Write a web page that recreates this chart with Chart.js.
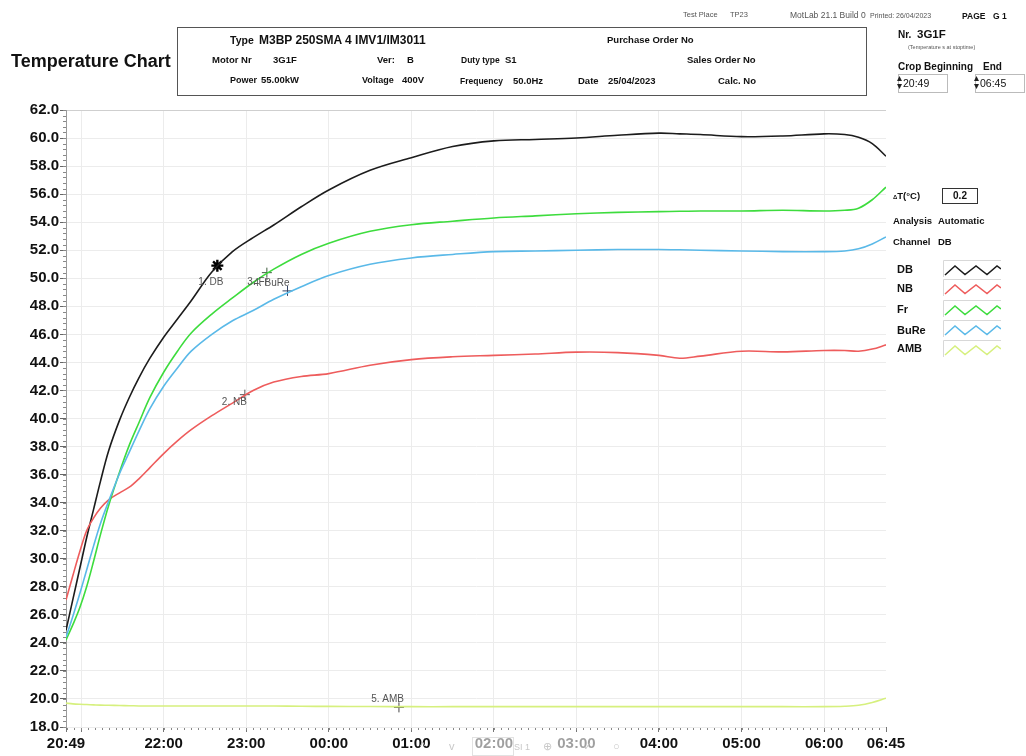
<!DOCTYPE html>
<html>
<head>
<meta charset="utf-8">
<script src="https://cdn.jsdelivr.net/npm/chart.js@4.4.1/dist/chart.umd.min.js"></script>
<style>
body { margin:0; width:1026px; height:756px; overflow:hidden; background:#fff; position:relative;
  font-family:"Liberation Sans", Arial, sans-serif; color:#111; }
#chart { position:absolute; left:0; top:0; }
.t { position:absolute; white-space:nowrap; line-height:1; transform:translateY(-50%); }
.b { font-weight:bold; }
.small { font-size:7.5px; color:#555; }
.hd { font-size:9.5px; }
#box { position:absolute; left:177px; top:27px; width:688px; height:67px; border:1.5px solid #555; }
.inp { position:absolute; top:74px; height:17px; border:1px solid #bbb; background:#fff; }
.sw { position:absolute; left:943px; width:58px; height:18px; }
#tools { position:absolute; left:434px; top:735px; width:206px; height:21px; background:rgba(255,255,255,0.6); }
.ic { position:absolute; color:#c8c8c8; font-size:11px; line-height:1; top:6px; }
</style>
</head>
<body>
<canvas id="chart" width="1026" height="756"></canvas>

<div class="t b" style="left:11px;top:61px;font-size:18px">Temperature Chart</div>

<div id="box"></div>
<div class="t b" style="left:230px;top:40px;font-size:10.5px">Type</div>
<div class="t b" style="left:259px;top:40px;font-size:12px">M3BP 250SMA 4 IMV1/IM3011</div>
<div class="t b hd" style="left:607px;top:40px">Purchase Order No</div>
<div class="t b hd" style="left:212px;top:59.5px">Motor Nr</div>
<div class="t b hd" style="left:273px;top:59.5px">3G1F</div>
<div class="t b hd" style="left:377px;top:59.5px">Ver:</div>
<div class="t b hd" style="left:407px;top:59.5px">B</div>
<div class="t b" style="left:461px;top:60px;font-size:8.5px">Duty type</div>
<div class="t b hd" style="left:505px;top:60px">S1</div>
<div class="t b hd" style="left:687px;top:59.5px">Sales Order No</div>
<div class="t b" style="left:230px;top:79.5px;font-size:9px">Power</div>
<div class="t b hd" style="left:261px;top:79.5px">55.00kW</div>
<div class="t b" style="left:362px;top:79.5px;font-size:9px">Voltage</div>
<div class="t b hd" style="left:402px;top:79.5px">400V</div>
<div class="t b" style="left:460px;top:80.5px;font-size:8.5px">Frequency</div>
<div class="t b hd" style="left:513px;top:80.5px">50.0Hz</div>
<div class="t b hd" style="left:578px;top:80.5px">Date</div>
<div class="t b hd" style="left:608px;top:80.5px">25/04/2023</div>
<div class="t b hd" style="left:718px;top:80.5px">Calc. No</div>

<div class="t small" style="left:683px;top:15px">Test Place</div>
<div class="t small" style="left:730px;top:15px">TP23</div>
<div class="t small" style="left:790px;top:15px;font-size:8.5px">MotLab 21.1 Build 0</div>
<div class="t small" style="left:870px;top:15px;font-size:7px">Printed: 26/04/2023</div>
<div class="t b" style="left:962px;top:16px;font-size:8.5px">PAGE</div>
<div class="t b" style="left:993px;top:16px;font-size:8.5px">G 1</div>

<div class="t b" style="left:898px;top:35px;font-size:10px">Nr.</div>
<div class="t b" style="left:917px;top:35px;font-size:11.5px">3G1F</div>
<div class="t" style="left:908px;top:48px;font-size:5.5px;color:#555">(Temperature s at stoptime)</div>
<div class="t b" style="left:898px;top:67px;font-size:10px">Crop Beginning</div>
<div class="t b" style="left:983px;top:67px;font-size:10px">End</div>
<div class="inp" style="left:898px;width:48px"></div>
<div class="inp" style="left:975px;width:48px"></div>
<svg style="position:absolute;left:896px;top:75px" width="7" height="16"><path d="M1 6 L3.5 1 L6 6 Z M1 9 L3.5 14 L6 9 Z" fill="#222"/></svg>
<svg style="position:absolute;left:973px;top:75px" width="7" height="16"><path d="M1 6 L3.5 1 L6 6 Z M1 9 L3.5 14 L6 9 Z" fill="#222"/></svg>
<div class="t" style="left:903px;top:83px;font-size:10.5px">20:49</div>
<div class="t" style="left:980px;top:83px;font-size:10.5px">06:45</div>

<div class="t b" style="left:893px;top:196px;font-size:9.5px"><span style="font-size:6px">&#916;</span>T(&#176;C)</div>
<div style="position:absolute;left:942px;top:188px;width:34px;height:14px;border:1px solid #333;font:bold 10px 'Liberation Sans',Arial,sans-serif;text-align:center;line-height:14px">0.2</div>
<div class="t b" style="left:893px;top:221px;font-size:9.5px">Analysis</div>
<div class="t b" style="left:938px;top:221px;font-size:9.5px">Automatic</div>
<div class="t b" style="left:893px;top:242px;font-size:9.5px">Channel</div>
<div class="t b" style="left:938px;top:242px;font-size:9.5px">DB</div>

<div class="t b" style="left:897px;top:269px;font-size:11px">DB</div>
<div class="t b" style="left:897px;top:288px;font-size:11px">NB</div>
<div class="t b" style="left:897px;top:309px;font-size:11px">Fr</div>
<div class="t b" style="left:897px;top:330px;font-size:11px">BuRe</div>
<div class="t b" style="left:897px;top:348px;font-size:11px">AMB</div>
<div id="swatches"></div>

<div id="tools">
  <span class="ic" style="left:-14px">^</span>
  <span class="ic" style="left:15px">v</span>
  <span style="position:absolute;left:38px;top:2px;width:40px;height:17px;border:1px solid #e2e2e2"></span>
  <span class="ic" style="left:80px;font-size:9px;top:8px">SI 1</span>
  <span class="ic" style="left:109px">&#8853;</span>
  <span class="ic" style="left:149px">&#10003;</span>
  <span class="ic" style="left:179px">&#9675;</span>
</div>

<script>
// sample times (clock) and readings in degrees C
const times = ['20:49','20:54','20:59','21:04','21:09','21:14','21:20','21:28','21:35','21:42','21:50',
  '22:00','22:10','22:20','22:35','22:50','23:05','23:20','23:40','00:00','00:30','01:00','01:30',
  '02:00','02:30','03:00','03:30','04:00','04:15','04:30','05:00','05:30','06:00','06:15','06:25','06:35','06:45']
const dbTemp = [24.9, 27.1, 29.3, 31.5, 33.5, 35.5, 37.7, 39.9, 41.5, 42.9, 44.3,
  45.8, 47.1, 48.4, 50.45, 51.9, 52.9, 53.8, 55.1, 56.3, 57.7, 58.6, 59.4,
  59.8, 59.9, 60.0, 60.2, 60.35, 60.3, 60.25, 60.1, 60.15, 60.3, 60.25, 60.05, 59.6, 58.7]
const nbTemp = [27.05, 28.8, 30.5, 32.0, 32.9, 33.6, 34.2, 34.7, 35.1, 35.7, 36.5,
  37.5, 38.4, 39.2, 40.2, 41.1, 42.0, 42.6, 43.0, 43.2, 43.8, 44.2, 44.4,
  44.5, 44.6, 44.73, 44.7, 44.5, 44.3, 44.45, 44.8, 44.75, 44.85, 44.85, 44.8, 44.95, 45.25]
const frTemp = [24.2, 25.3, 26.5, 28.0, 29.8, 31.7, 33.8, 36.2, 38.1, 39.7, 41.5,
  43.3, 44.8, 46.1, 47.45, 48.6, 49.7, 50.65, 51.7, 52.5, 53.35, 53.82, 54.07,
  54.3, 54.45, 54.6, 54.7, 54.75, 54.78, 54.8, 54.8, 54.85, 54.8, 54.85, 55.0, 55.6, 56.5]
const bureTemp = [24.4, 25.9, 27.5, 29.2, 30.9, 32.5, 34.1, 36.1, 37.6, 39.1, 40.7,
  42.3, 43.6, 44.8, 46.0, 46.97, 47.7, 48.5, 49.4, 50.2, 51.0, 51.45, 51.7,
  51.9, 51.95, 52.0, 52.05, 52.05, 52.03, 52.0, 51.95, 51.9, 51.9, 51.95, 52.1, 52.45, 52.95]
const ambTemp = [19.7, 19.65, 19.62, 19.6, 19.58, 19.56, 19.55, 19.53, 19.52, 19.5, 19.5,
  19.5, 19.5, 19.5, 19.5, 19.5, 19.5, 19.5, 19.48, 19.47, 19.46, 19.45, 19.45,
  19.45, 19.45, 19.45, 19.45, 19.45, 19.45, 19.45, 19.45, 19.45, 19.45, 19.48, 19.55, 19.75, 20.05]

const markerTimes = ['22:39', '22:59', '23:15', '23:30', '00:51']
const markerTemps = [50.9, 41.7, 50.4, 49.1, 19.4]
const markerLabels = ['1. DB', '2. NB', '3. Fr', '4. BuRe', '5. AMB']

const xTickTimes = ['20:49','21:00','22:00','23:00','00:00','01:00','02:00','03:00','04:00','05:00','06:00','06:45']
const xTickLabels = ['20:49','','22:00','23:00','00:00','01:00','02:00','03:00','04:00','05:00','06:00','06:45']

const names = ['DB', 'NB', 'Fr', 'BuRe', 'AMB']
const colors = ['#1c1c1c', '#ee5c5c', '#3ddc3d', '#5ab9e8', '#d6f07e']
const temps = [dbTemp, nbTemp, frTemp, bureTemp, ambTemp]

const fontFamily = '"Liberation Sans", Arial, sans-serif'
Chart.defaults.font.family = fontFamily

// minutes after 20:49, rolling past midnight
function toMin(t) {
	var p = t.split(':').map(Number)
	var v = p[0] * 60 + p[1] - (20 * 60 + 49)
	return v < 0 ? v + 1440 : v
}
var xMax = toMin('06:45')

// legend swatches
var sw = document.getElementById('swatches')
var swTops = [260, 279, 300, 320, 340]
colors.forEach(function(c, i) {
	sw.insertAdjacentHTML('beforeend',
		'<svg class="sw" style="top:' + swTops[i] + 'px" width="58" height="18">' +
		'<path d="M0.5 17 L0.5 0.5 L58 0.5" fill="none" stroke="#d8d8d8"/>' +
		'<polyline points="2,15 12,6 22,14.5 33,6 44,14.5 54,6 58,9" fill="none" stroke="' + c + '" stroke-width="1.5"/></svg>')
})

var datasets = temps.map(function(arr, i) {
	return {
		label: names[i],
		data: arr.map(function(v, j) { return { x: toMin(times[j]), y: v } }),
		borderColor: colors[i],
		borderWidth: 1.6,
		pointRadius: 0,
		tension: 0.35,
		fill: false,
	}
}).reverse()

datasets.push({
	label: 'markers',
	data: markerTimes.map(function(t, i) { return { x: toMin(t), y: markerTemps[i] } }),
	showLine: false,
	pointStyle: ['star', 'cross', 'cross', 'cross', 'cross'],
	pointRadius: [6, 5, 5, 5, 5],
	borderWidth: [2.4, 1, 1, 1, 1],
	borderColor: ['#000', '#555', '#3a5a3a', '#334466', '#444'],
	backgroundColor: 'transparent',
})
var markerIndex = datasets.length - 1

var labelOffsets = [[6, 17], [2, 8], [1, 10], [2, -8], [5, -8]]

var markerLabelPlugin = {
	id: 'markerLabels',
	afterDatasetsDraw: function(chart) {
		var meta = chart.getDatasetMeta(markerIndex)
		var ctx = chart.ctx
		ctx.save()
		ctx.font = '10px ' + fontFamily
		ctx.fillStyle = '#555'
		ctx.textAlign = 'right'
		ctx.textBaseline = 'middle'
		meta.data.forEach(function(pt, i) {
			ctx.fillText(markerLabels[i], pt.x + labelOffsets[i][0], pt.y + labelOffsets[i][1])
		})
		ctx.restore()
	}
}

// small ticks every 5 minutes and every 0.4 degree
var minorTicks = {
	id: 'minorTicks',
	afterDraw: function(chart) {
		var ctx = chart.ctx
		var xs = chart.scales.x, ys = chart.scales.y
		var a = chart.chartArea
		ctx.save()
		ctx.strokeStyle = '#888'
		ctx.lineWidth = 1
		ctx.beginPath()
		for (var m = 1; m < xMax; m += 5) {
			var px = Math.round(xs.getPixelForValue(m)) + 0.5
			ctx.moveTo(px, a.bottom + 1)
			ctx.lineTo(px, a.bottom + 3)
		}
		for (var t = 18; t <= 62.001; t += 0.4) {
			var py = Math.round(ys.getPixelForValue(t)) + 0.5
			ctx.moveTo(a.left - 3, py)
			ctx.lineTo(a.left, py)
		}
		ctx.stroke()
		ctx.restore()
	}
}

new Chart(document.getElementById('chart'), {
	type: 'line',
	data: { datasets: datasets },
	options: {
		responsive: false,
		animation: false,
		layout: { padding: { top: 110, left: 0, right: 140, bottom: 0 } },
		plugins: { legend: { display: false }, tooltip: { enabled: false } },
		scales: {
			x: {
				type: 'linear',
				min: 0,
				max: xMax,
				afterBuildTicks: function(scale) {
					scale.ticks = xTickTimes.map(function(t) { return { value: toMin(t) } })
				},
				afterFit: function(scale) { scale.height = 29 },
				ticks: {
					autoSkip: false,
					maxRotation: 0,
					padding: 3,
					color: '#111',
					font: { size: 15, weight: 'bold' },
					callback: function(v, i) { return xTickLabels[i] }
				},
				grid: {
					color: function(c) { return c.tick && c.tick.value === xMax ? 'rgba(0,0,0,0)' : '#ececec' },
					tickColor: '#777',
					tickLength: 5,
				},
				border: { display: false },
			},
			y: {
				min: 18,
				max: 62,
				afterFit: function(scale) { scale.width = 66 },
				ticks: {
					stepSize: 2,
					padding: 1,
					color: '#111',
					font: { size: 15, weight: 'bold' },
					callback: function(v) { return v.toFixed(1) }
				},
				grid: {
					color: function(c) { return c.tick && c.tick.value === 62 ? '#cfcfcf' : '#ececec' },
					tickColor: '#666',
					tickLength: 6,
				},
				border: { color: '#9a9a9a' },
			}
		}
	},
	plugins: [markerLabelPlugin, minorTicks]
})
</script>
</body>
</html>
